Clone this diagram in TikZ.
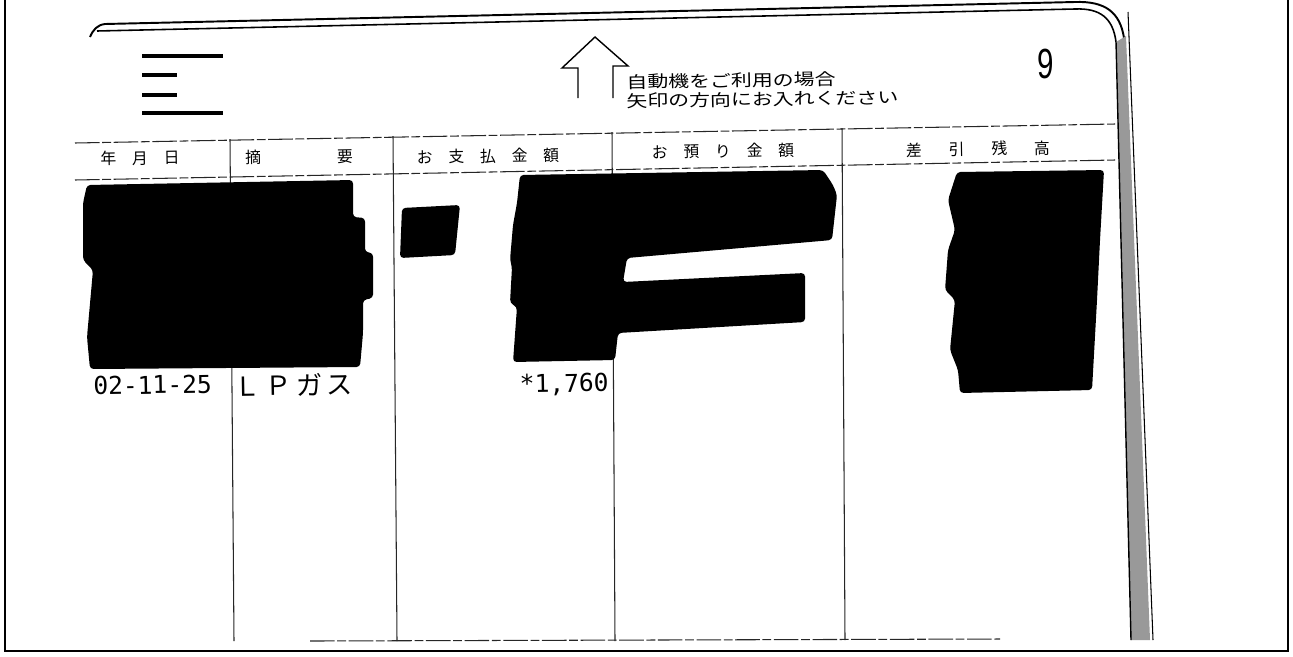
\documentclass[tikz,border=0pt]{standalone}
\usepackage{fontspec}
\newfontfamily\jpfont{Noto Sans CJK JP}
\newfontfamily\ocrfont{DejaVu Sans Mono}
\newfontfamily\pagefont{Liberation Sans}
\begin{document}
\begin{tikzpicture}[x=0.02cm,y=-0.02cm,
    rule/.style={black!85,line width=0.6pt},
    scanline/.style={rule,dash pattern=on 14pt off 1.5pt on 5pt off 1.5pt},
    hdr/.style={font=\jpfont\fontsize{9}{9}\selectfont,inner sep=0pt,rotate=1},
    guide/.style={font=\jpfont\fontsize{9.3}{9.3}\selectfont,anchor=west,inner sep=0pt,xscale=1.28,rotate=1},
    entry/.style={font=\ocrfont\fontsize{14}{14}\selectfont,inner sep=0pt,rotate=1},
    redact/.style={fill=black,rounded corners=2pt}]

\useasboundingbox (0,0) rectangle (1293,656);

% scan frame
\draw[line width=1.2pt] (5,0) -- (5,651) -- (1288,651) -- (1288,0);

% passbook page edge
\draw[line width=1.1pt] (90,37) .. controls (93,30) and (97,25) .. (105,24) -- (1075,2) .. controls (1105,1) and (1120,12) .. (1124,38);
\draw[line width=0.9pt] (97,31) -- (1075,9) .. controls (1100,8) and (1113,18) .. (1116,42);
\fill[black!40] (1116,42) -- (1126,36) -- (1150,640) -- (1131,640) -- cycle;
\draw[line width=0.8pt] (1116,42) -- (1131,640);
\draw[line width=0.6pt] (1128,12) -- (1153,640);

% menu mark
\fill (142,54) rectangle (223,58);
\fill (142,73) rectangle (177,77);
\fill (142,93) rectangle (177,97);
\fill (142,111) rectangle (223,115);

% insert arrow
\draw[line width=0.8pt] (578,98) -- (578,68) -- (562,68) -- (595,37) -- (628,66) -- (613,66) -- (613,98);
\node[guide] (guide1) at (626,82) {自動機をご利用の場合};
\node[guide] (guide2) at (626,101) {矢印の方向にお入れください};
\node[font=\pagefont\fontsize{24}{24}\selectfont,inner sep=0pt,xscale=0.7] (pageno) at (1046,64) {9};

% table head
\draw[scanline] (75,143) -- (1115,124);
\draw[scanline] (75,180) -- (1115,160);
\node[hdr] (hdate) at (140,158) {年\hspace{1em}月\hspace{1em}日};
\node[hdr] (hmemo) at (299,157) {摘\hspace{4.8em}要};
\node[hdr] (hpay) at (488,156) {お\hspace{1em}支\hspace{1em}払\hspace{1em}金\hspace{1em}額};
\node[hdr] (hdep) at (723,151) {お\hspace{1em}預\hspace{1em}り\hspace{1em}金\hspace{1em}額};
\node[hdr] (hbal) at (978,149) {差\hspace{1.7em}引\hspace{1.7em}残\hspace{1.7em}高};

% columns
\draw[rule] (230,139) -- (234,641);
\draw[rule] (393,136) -- (397,641);
\draw[rule] (612,132) -- (615,641);
\draw[rule] (842,128) -- (845,640);
\draw[scanline] (310,641) -- (1000,639);

% blacked out entries
\fill[redact] (87,185) -- (353,180) -- (353,217) -- (365,218) -- (365,252) -- (373,253) -- (373,298) -- (363,300) -- (363,333) -- (360,367) -- (90,369) -- (87,337) -- (93,270) -- (83,260) -- (83,203) -- cycle;
\fill[redact] (402,208) -- (460,205) -- (455,255) -- (400,258) -- cycle;
\fill[redact] (520,175) -- (823,170) -- (833,185) -- (837,195) -- (832,240) -- (627,258) -- (623,282) -- (805,273) -- (805,322) -- (618,333) -- (615,360) -- (513,362) -- (517,307) -- (510,303) -- (512,267) -- (510,260) -- (513,225) -- (517,203) -- cycle;
\fill[redact] (957,172) -- (1104,170) -- (1100,240) -- (1097,300) -- (1092,390) -- (960,393) -- (958,370) -- (950,350) -- (955,300) -- (945,290) -- (948,250) -- (955,230) -- (948,200) -- cycle;

% printed row
\node[entry,anchor=west] (date) at (93,386) {02-11-25};
\node[font=\jpfont\fontsize{15}{15}\selectfont,anchor=west,inner sep=0pt,rotate=1] (item) at (234,386) {Ｌ\,Ｐ\,ガ\,ス};
\node[entry,anchor=east] (amount) at (609,384) {*1,760};
\end{tikzpicture}
\end{document}
